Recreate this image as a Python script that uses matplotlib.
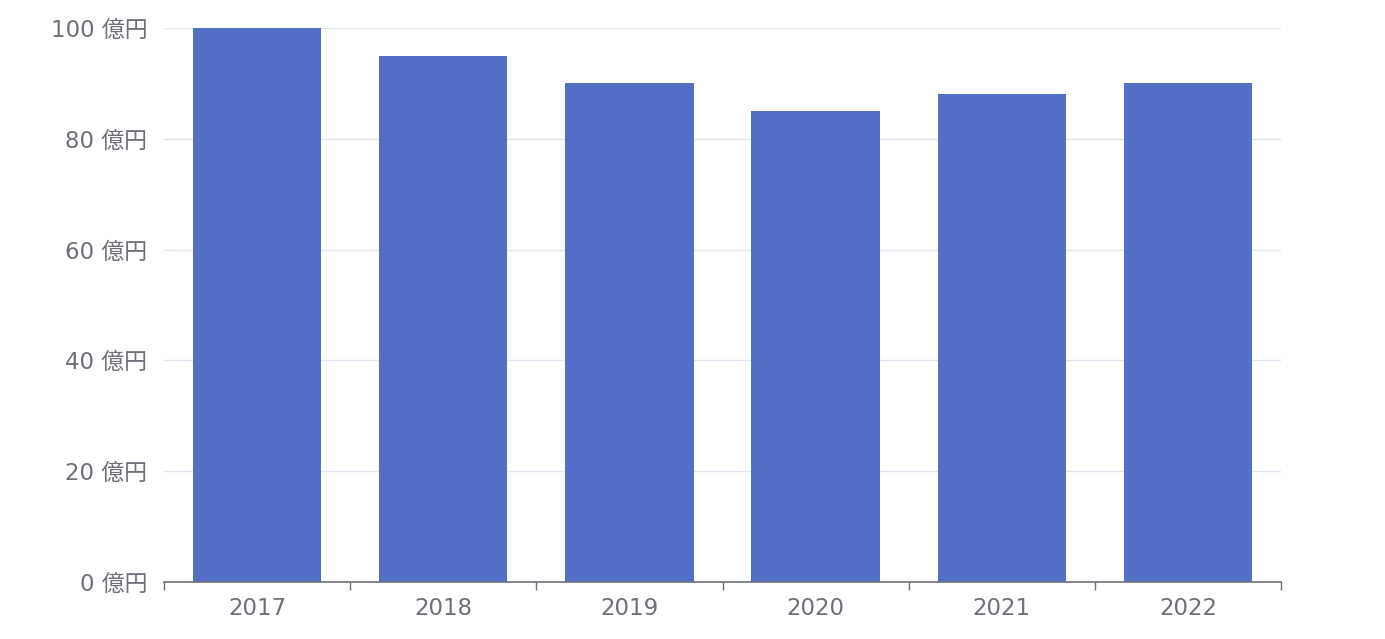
import matplotlib
matplotlib.use("Agg")
import matplotlib.pyplot as plt
from matplotlib.ticker import FixedLocator

# 数字は幅の広い DejaVu、漢字は Noto CJK にフォールバック
plt.rcParams["font.family"] = ["DejaVu Sans", "Noto Sans CJK JP"]

years = ["2017", "2018", "2019", "2020", "2021", "2022"]
values = [100, 95, 90, 85, 88, 90]
y_ticks = [0, 20, 40, 60, 80, 100]

BAR_COLOR = "#5470c6"
AXIS_COLOR = "#6E7079"
GRID_COLOR = "#E0E6F1"

fig = plt.figure(figsize=(13.85, 6.39), dpi=100)
ax = fig.add_axes([164 / 1385, 57 / 639, 1117 / 1385, 554 / 639])

x = list(range(len(years)))
ax.bar(x, values, width=0.69, color=BAR_COLOR, zorder=3)

ax.set_xlim(-0.5, len(years) - 0.5)
ax.set_ylim(0, 100)

ax.set_yticks(y_ticks)
ax.set_yticklabels([f"{v} 億円" for v in y_ticks])
ax.yaxis.grid(True, color=GRID_COLOR, linewidth=1, zorder=0)
ax.tick_params(axis="y", length=0, pad=12, labelsize=16.5, labelcolor=AXIS_COLOR)

ax.set_xticks(x)
ax.set_xticklabels(years)
ax.xaxis.set_minor_locator(FixedLocator([i - 0.5 for i in range(len(years) + 1)]))
ax.tick_params(axis="x", which="major", length=0, pad=11, labelsize=16.5, labelcolor=AXIS_COLOR)
ax.tick_params(axis="x", which="minor", length=6, color=AXIS_COLOR, width=1)

for side in ["top", "right", "left"]:
    ax.spines[side].set_visible(False)
ax.spines["bottom"].set_color(AXIS_COLOR)
ax.spines["bottom"].set_linewidth(1.2)
ax.spines["bottom"].set_zorder(4)

fig.savefig("out.png", dpi=100)
